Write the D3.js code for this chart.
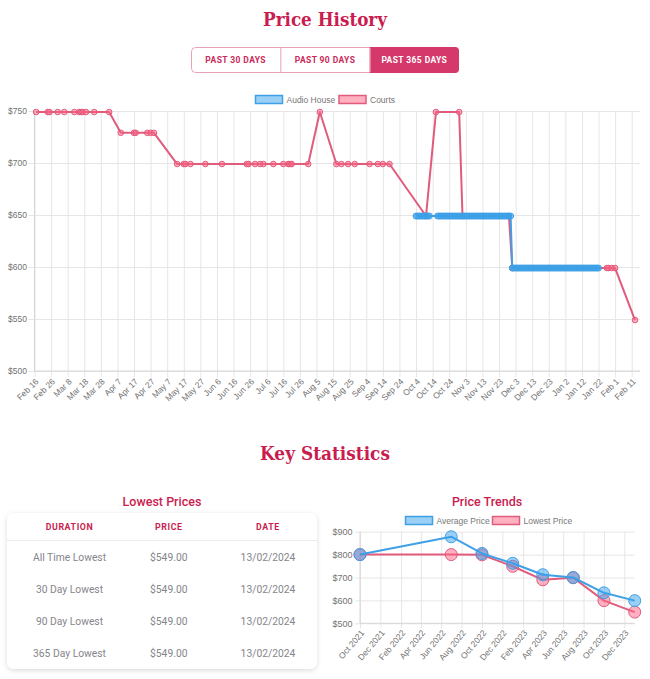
<!DOCTYPE html>
<html>
<head>
<meta charset="utf-8">
<script src="https://cdn.jsdelivr.net/npm/d3@7"></script>
<style>
  body { margin: 0; background: #fff; }
  svg { display: block; }
  .tick text { fill: #727272; font-family: "Liberation Sans", Arial, sans-serif; font-size: 8.5px; }
  .grid line { stroke: #e6e6e6; }
</style>
</head>
<body>
<div id="page"></div>
<script>
// ---- price history (365 days) ----
const historyTicks = ["2023-02-16", "2023-02-26", "2023-03-08", "2023-03-18", "2023-03-28", "2023-04-07",
    "2023-04-17", "2023-04-27", "2023-05-07", "2023-05-17", "2023-05-27", "2023-06-06", "2023-06-16",
    "2023-06-26", "2023-07-06", "2023-07-16", "2023-07-26", "2023-08-05", "2023-08-15", "2023-08-25",
    "2023-09-04", "2023-09-14", "2023-09-24", "2023-10-04", "2023-10-14", "2023-10-24", "2023-11-03",
    "2023-11-13", "2023-11-23", "2023-12-03", "2023-12-13", "2023-12-23", "2024-01-02", "2024-01-12",
    "2024-01-22", "2024-02-01", "2024-02-11"];
const historyPriceTicks = [500, 550, 600, 650, 700, 750];

const courtsHistory = [
    ["2023-02-17", 749], ["2023-02-24", 749], ["2023-02-25", 749], ["2023-03-02", 749], ["2023-03-06", 749],
    ["2023-03-12", 749], ["2023-03-15", 749], ["2023-03-16", 749], ["2023-03-17", 749], ["2023-03-19", 749],
    ["2023-03-24", 749], ["2023-04-02", 749],
    ["2023-04-09", 729], ["2023-04-17", 729], ["2023-04-18", 729], ["2023-04-25", 729], ["2023-04-27", 729],
    ["2023-04-29", 729],
    ["2023-05-13", 699], ["2023-05-17", 699], ["2023-05-18", 699], ["2023-05-21", 699], ["2023-05-30", 699],
    ["2023-06-09", 699], ["2023-06-24", 699], ["2023-06-25", 699], ["2023-06-29", 699], ["2023-07-02", 699],
    ["2023-07-04", 699], ["2023-07-10", 699], ["2023-07-16", 699], ["2023-07-19", 699], ["2023-07-20", 699],
    ["2023-07-21", 699], ["2023-07-31", 699],
    ["2023-08-07", 749],
    ["2023-08-17", 699], ["2023-08-20", 699], ["2023-08-24", 699], ["2023-08-28", 699], ["2023-09-06", 699],
    ["2023-09-11", 699], ["2023-09-14", 699], ["2023-09-18", 699],
    ["2023-10-10", 649],
    ["2023-10-16", 749], ["2023-10-30", 749],
    ["2023-11-01", 649], ["2023-11-29", 649],
    ["2023-12-01", 599], ["2024-01-27", 599], ["2024-01-28", 599], ["2024-01-30", 599], ["2024-02-01", 599],
    ["2024-02-13", 549]
];

const audioHouse649 = ["2023-10-04", "2023-10-05", "2023-10-06", "2023-10-07", "2023-10-08", "2023-10-09",
    "2023-10-10", "2023-10-11", "2023-10-12",
    "2023-10-17", "2023-10-18", "2023-10-19", "2023-10-20", "2023-10-21", "2023-10-22", "2023-10-23",
    "2023-10-24", "2023-10-25", "2023-10-26", "2023-10-27", "2023-10-28", "2023-10-29", "2023-10-30",
    "2023-10-31", "2023-11-01", "2023-11-02", "2023-11-03", "2023-11-04", "2023-11-05", "2023-11-06",
    "2023-11-07", "2023-11-08", "2023-11-09", "2023-11-10", "2023-11-11", "2023-11-12", "2023-11-13",
    "2023-11-14", "2023-11-15", "2023-11-16", "2023-11-17", "2023-11-18", "2023-11-19", "2023-11-20",
    "2023-11-21", "2023-11-22", "2023-11-23", "2023-11-24", "2023-11-25", "2023-11-26", "2023-11-27",
    "2023-11-28", "2023-11-29", "2023-11-30"];
const audioHouse599 = ["2023-12-01", "2023-12-02", "2023-12-03", "2023-12-04", "2023-12-05", "2023-12-06",
    "2023-12-07", "2023-12-08", "2023-12-09", "2023-12-10", "2023-12-11", "2023-12-12", "2023-12-13",
    "2023-12-14", "2023-12-15", "2023-12-16", "2023-12-17", "2023-12-18", "2023-12-19", "2023-12-20",
    "2023-12-21", "2023-12-22", "2023-12-23", "2023-12-24", "2023-12-25", "2023-12-26", "2023-12-27",
    "2023-12-28", "2023-12-29", "2023-12-30", "2023-12-31", "2024-01-01", "2024-01-02", "2024-01-03",
    "2024-01-04", "2024-01-05", "2024-01-06", "2024-01-07", "2024-01-08", "2024-01-09", "2024-01-10",
    "2024-01-11", "2024-01-12", "2024-01-13", "2024-01-14", "2024-01-15", "2024-01-16", "2024-01-17",
    "2024-01-18", "2024-01-19", "2024-01-20", "2024-01-21", "2024-01-22"];

const rangeButtons = ["PAST 30 DAYS", "PAST 90 DAYS", "PAST 365 DAYS"];
const activeRange = "PAST 365 DAYS";
const historySeries = ["Audio House", "Courts"];

// ---- key statistics ----
const statColumns = ["DURATION", "PRICE", "DATE"];
const statDurations = ["All Time Lowest", "30 Day Lowest", "90 Day Lowest", "365 Day Lowest"];
const statPrices = [549, 549, 549, 549];
const statDates = ["13/02/2024", "13/02/2024", "13/02/2024", "13/02/2024"];

// ---- price trends ----
const trendMonths = ["2021-10-01", "2022-07-01", "2022-10-01", "2023-01-01", "2023-04-01", "2023-07-01",
    "2023-10-01", "2024-01-01"];
const averagePrice = [800, 878, 805, 762, 712, 700, 633, 599];
const lowestPrice = [800, 800, 799, 749, 690, 699, 599, 549];
const trendTicks = ["2021-10-01", "2021-12-01", "2022-02-01", "2022-04-01", "2022-06-01", "2022-08-01",
    "2022-10-01", "2022-12-01", "2023-02-01", "2023-04-01", "2023-06-01", "2023-08-01", "2023-10-01",
    "2023-12-01"];
const trendPriceTicks = [500, 600, 700, 800, 900];
const trendSeries = ["Average Price", "Lowest Price"];

const crimson = "#c91d50";
const blue = "#3fa0e6", blueFill = "rgba(54,162,235,0.5)";
const red = "#e15b7c", redFill = "rgba(255,99,132,0.5)";
const slab = '"DejaVu Serif", serif';
const roboto = 'Roboto, "Noto Sans", sans-serif';
const chartFont = '"Liberation Sans", Arial, sans-serif';

const parseDay = d3.timeParse("%Y-%m-%d");
const money = d => "$" + d;

const svg = d3.select("#page").append("svg")
    .attr("width", 650)
    .attr("height", 679);

const defs = svg.append("defs");
defs.append("filter").attr("id", "cardShadow")
    .attr("x", "-10%").attr("y", "-10%").attr("width", "120%").attr("height", "130%")
    .append("feDropShadow")
    .attr("dx", 0).attr("dy", 1.5).attr("stdDeviation", 2.5)
    .attr("flood-color", "#000").attr("flood-opacity", 0.14);

function sectionTitle(text, y, len) {
    svg.append("text")
        .attr("x", 325).attr("y", y)
        .attr("text-anchor", "middle")
        .attr("font-family", slab).attr("font-weight", "bold").attr("font-size", 19)
        .attr("textLength", len).attr("lengthAdjust", "spacingAndGlyphs")
        .attr("fill", crimson)
        .text(text);
}

function legend(items, colors, y, xs) {
    const lg = svg.append("g").attr("font-family", chartFont).attr("font-size", 8.5).attr("fill", "#777");
    items.forEach((name, i) => {
        lg.append("rect")
            .attr("x", xs[i]).attr("y", y - 4).attr("width", 27).attr("height", 8)
            .attr("fill", colors[i][1]).attr("stroke", colors[i][0]).attr("stroke-width", 1.5);
        lg.append("text").attr("x", xs[i] + 31).attr("y", y + 3).text(name);
    });
}

// ---------- Price History ----------
sectionTitle("Price History", 26, 124);

const btnX = d3.scaleBand().domain(rangeButtons).range([191, 459]);
const btns = svg.append("g");
btns.append("rect")
    .attr("x", 191.5).attr("y", 47.5).attr("width", 267).attr("height", 25).attr("rx", 4)
    .attr("fill", "#fff").attr("stroke", "#e8a2b4");
btns.append("path")
    .attr("d", `M${btnX(activeRange)},47 h${btnX.bandwidth() - 4} a4,4 0 0 1 4,4 v18 a4,4 0 0 1 -4,4 h${-(btnX.bandwidth() - 4)} z`)
    .attr("fill", "#d5386a");
btns.selectAll("line.div").data(rangeButtons.slice(1)).join("line")
    .attr("x1", d => btnX(d) + 0.5).attr("x2", d => btnX(d) + 0.5)
    .attr("y1", 48).attr("y2", 72)
    .attr("stroke", "#e8a2b4");
btns.selectAll("text").data(rangeButtons).join("text")
    .attr("x", d => btnX(d) + btnX.bandwidth() / 2).attr("y", 63)
    .attr("text-anchor", "middle")
    .attr("font-family", roboto).attr("font-weight", 700).attr("font-size", 8.5)
    .attr("letter-spacing", 0.4)
    .attr("fill", d => d === activeRange ? "#fff" : "#c82a5a")
    .text(d => d);

legend(historySeries, [[blue, blueFill], [red, redFill]], 99.5, [255.5, 339]);

const hLeft = 34.5, hRight = 640, hTop = 111, hBottom = 371;
const hx = d3.scaleTime()
    .domain([parseDay("2023-02-16"), parseDay("2024-02-16")])
    .range([hLeft, hRight]);
const hy = d3.scaleLinear().domain([500, 750]).range([hBottom, hTop]);
const hTickDates = historyTicks.map(parseDay);

svg.append("g").attr("class", "grid")
    .attr("transform", `translate(0,${hBottom + 6})`)
    .call(d3.axisBottom(hx).tickValues(hTickDates).tickSize(-(hBottom - hTop + 6)).tickFormat(""))
    .call(g => g.select(".domain").remove());
svg.append("g").attr("class", "grid")
    .attr("transform", `translate(${hLeft - 6},0)`)
    .call(d3.axisLeft(hy).tickValues(historyPriceTicks).tickSize(-(hRight - hLeft + 6)).tickFormat(""))
    .call(g => g.select(".domain").remove());
svg.append("line").attr("x1", hLeft).attr("x2", hLeft).attr("y1", hTop).attr("y2", hBottom).attr("stroke", "#d6d6d6");
svg.append("line").attr("x1", hLeft).attr("x2", hRight).attr("y1", hBottom).attr("y2", hBottom).attr("stroke", "#d6d6d6");

svg.append("g")
    .attr("transform", `translate(${hLeft},0)`)
    .call(d3.axisLeft(hy).tickValues(historyPriceTicks).tickSize(0).tickPadding(7.5).tickFormat(money))
    .call(g => g.select(".domain").remove());
svg.append("g")
    .attr("transform", `translate(0,${hBottom})`)
    .call(d3.axisBottom(hx).tickValues(hTickDates).tickSize(0).tickFormat(d3.timeFormat("%b %-d")))
    .call(g => g.select(".domain").remove())
    .call(g => g.selectAll("text")
        .attr("y", 0).attr("dy", "0.35em")
        .attr("text-anchor", "end")
        .attr("transform", "translate(2,9) rotate(-45)"));

const courtsData = courtsHistory.map(([d, p]) => ({ date: parseDay(d), price: p }));
const audioData = audioHouse649.map(d => ({ date: parseDay(d), price: 649 }))
    .concat(audioHouse599.map(d => ({ date: parseDay(d), price: 599 })));

const hLine = d3.line().x(d => hx(d.date)).y(d => hy(d.price));

function drawSeries(data, line, xs, ys, stroke, fill, width, r) {
    svg.append("path").datum(data)
        .attr("d", line)
        .attr("fill", "none").attr("stroke", stroke).attr("stroke-width", width)
        .attr("stroke-linejoin", "round");
    svg.append("g").selectAll("circle").data(data).join("circle")
        .attr("cx", xs).attr("cy", ys).attr("r", r)
        .attr("fill", fill).attr("stroke", stroke).attr("stroke-width", 1);
}

drawSeries(courtsData, hLine, d => hx(d.date), d => hy(d.price), red, redFill, 2, 2.8);
drawSeries(audioData, hLine, d => hx(d.date), d => hy(d.price), blue, blueFill, 2, 3);

// ---------- Key Statistics ----------
sectionTitle("Key Statistics", 460, 130);

svg.append("text")
    .attr("x", 162).attr("y", 506)
    .attr("text-anchor", "middle")
    .attr("font-family", roboto).attr("font-weight", 500).attr("font-size", 12.5)
    .attr("fill", crimson)
    .text("Lowest Prices");

svg.append("rect")
    .attr("x", 7).attr("y", 513).attr("width", 310).attr("height", 156).attr("rx", 7)
    .attr("fill", "#fff")
    .attr("filter", "url(#cardShadow)");

const colX = d3.scalePoint().domain(statColumns).range([69.5, 268]);
svg.append("g").selectAll("text").data(statColumns).join("text")
    .attr("x", d => colX(d)).attr("y", 529.5)
    .attr("text-anchor", "middle")
    .attr("font-family", roboto).attr("font-weight", 700).attr("font-size", 8.8)
    .attr("letter-spacing", 0.6)
    .attr("fill", crimson)
    .text(d => d);
svg.append("line").attr("x1", 7).attr("x2", 317).attr("y1", 540.5).attr("y2", 540.5).attr("stroke", "#ececec");

const rowY = d3.scalePoint().domain(d3.range(statDurations.length)).range([561, 657]);
const rows = statDurations.map((d, i) => [d, "$" + statPrices[i].toFixed(2), statDates[i]]);
svg.append("g").selectAll("g").data(rows).join("g")
    .attr("transform", (d, i) => `translate(0,${rowY(i)})`)
    .selectAll("text").data(d => d).join("text")
    .attr("x", (d, i) => colX(statColumns[i]))
    .attr("text-anchor", "middle")
    .attr("font-family", roboto).attr("font-size", 10.3)
    .attr("fill", "#85858b")
    .text(d => d);

// ---------- Price Trends ----------
svg.append("text")
    .attr("x", 487).attr("y", 506)
    .attr("text-anchor", "middle")
    .attr("font-family", roboto).attr("font-weight", 500).attr("font-size", 12.5)
    .attr("fill", crimson)
    .text("Price Trends");

legend(trendSeries, [[blue, blueFill], [red, redFill]], 520.5, [405.5, 492.5]);

const tLeft = 360, tRight = 634.7, tTop = 531.7, tBottom = 623.3;
const tx = d3.scaleTime()
    .domain([parseDay("2021-10-01"), parseDay("2024-01-01")])
    .range([tLeft, tRight]);
const ty = d3.scaleLinear().domain([500, 900]).range([tBottom, tTop]);
const tTickDates = trendTicks.map(parseDay);

svg.append("g").attr("class", "grid")
    .attr("transform", `translate(0,${tBottom + 5})`)
    .call(d3.axisBottom(tx).tickValues(tTickDates).tickSize(-(tBottom - tTop + 5)).tickFormat(""))
    .call(g => g.select(".domain").remove());
svg.append("g").attr("class", "grid")
    .attr("transform", `translate(${tLeft - 5},0)`)
    .call(d3.axisLeft(ty).tickValues(trendPriceTicks).tickSize(-(tRight - tLeft + 5)).tickFormat(""))
    .call(g => g.select(".domain").remove());
svg.append("line").attr("x1", tLeft).attr("x2", tLeft).attr("y1", tTop).attr("y2", tBottom).attr("stroke", "#d6d6d6");
svg.append("line").attr("x1", tLeft).attr("x2", tRight).attr("y1", tBottom).attr("y2", tBottom).attr("stroke", "#d6d6d6");

svg.append("g")
    .attr("transform", `translate(${tLeft},0)`)
    .call(d3.axisLeft(ty).tickValues(trendPriceTicks).tickSize(0).tickPadding(7.5).tickFormat(money))
    .call(g => g.select(".domain").remove())
    .call(g => g.selectAll("text").style("font-size", "9px"));
svg.append("g")
    .attr("transform", `translate(0,${tBottom})`)
    .call(d3.axisBottom(tx).tickValues(tTickDates).tickSize(0).tickFormat(d3.timeFormat("%b %Y")))
    .call(g => g.select(".domain").remove())
    .call(g => g.selectAll("text")
        .attr("y", 0).attr("dy", "0.35em")
        .attr("text-anchor", "end")
        .attr("transform", "translate(2,8) rotate(-50)"));

const trendDates = trendMonths.map(parseDay);
const lowData = trendDates.map((d, i) => ({ date: d, price: lowestPrice[i] }));
const avgData = trendDates.map((d, i) => ({ date: d, price: averagePrice[i] }));
const tLine = d3.line().x(d => tx(d.date)).y(d => ty(d.price));

drawSeries(lowData, tLine, d => tx(d.date), d => ty(d.price), red, redFill, 2, 6);
drawSeries(avgData, tLine, d => tx(d.date), d => ty(d.price), blue, blueFill, 2, 6);
</script>
</body>
</html>
